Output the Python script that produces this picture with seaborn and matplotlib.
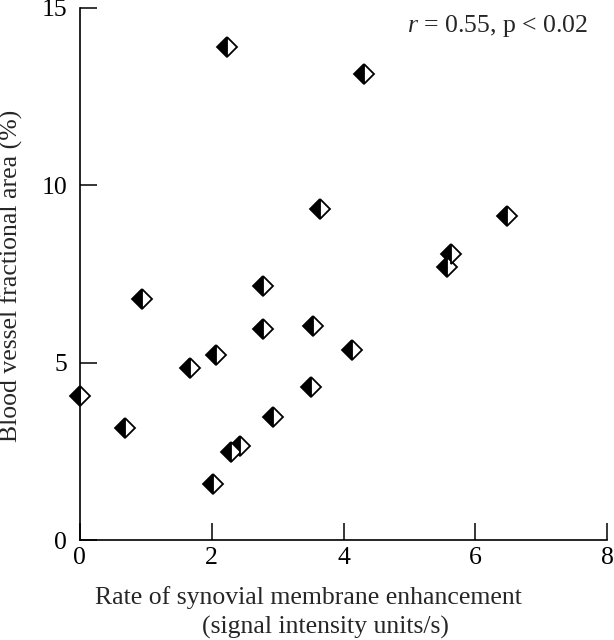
import matplotlib
matplotlib.use("Agg")
import matplotlib.pyplot as plt
import seaborn as sns
import pandas as pd

# Rate of synovial membrane enhancement vs blood vessel fractional area
rate = [0.0, 0.68, 0.94, 1.67, 2.06, 2.02, 2.23, 2.29, 2.43, 2.78,
        2.78, 2.93, 3.50, 3.54, 3.64, 4.13, 4.31, 5.57, 5.63, 6.48]
area = [4.06, 3.15, 6.79, 4.85, 5.21, 1.58, 13.89, 2.48, 2.65, 7.15,
        5.94, 3.46, 4.31, 6.03, 9.32, 5.35, 13.13, 7.69, 8.06, 9.13]

x_ticks = [0, 2, 4, 6, 8]
y_ticks = [0, 5, 10, 15]

df = pd.DataFrame({"rate": rate, "area": area})

sns.set_style("ticks")
plt.rcParams["font.family"] = ["Liberation Serif", "DejaVu Serif"]
plt.rcParams["mathtext.fontset"] = "custom"
plt.rcParams["mathtext.it"] = "Liberation Serif:italic"
plt.rcParams["mathtext.rm"] = "Liberation Serif"

fs = 18.5

fig = plt.figure(figsize=(6.14, 6.4), dpi=100)
ax = fig.add_axes([0.130, 0.156, 0.859, 0.832])

sns.lineplot(data=df, x="rate", y="area", ax=ax, estimator=None, sort=False,
             linestyle="", marker="D", markersize=10, fillstyle="left",
             markerfacecolor="black", markerfacecoloralt="white",
             mec="black", mew=1.3, color="black", clip_on=False)

ax.set_xlim(0, 8)
ax.set_ylim(0, 15)
ax.set_xticks(x_ticks)
ax.set_yticks(y_ticks)
ax.tick_params(direction="in", length=12.5, width=1.1, labelsize=fs,
               colors="black")
ax.tick_params(axis="y", pad=9)
ax.tick_params(axis="x", pad=5)
sns.despine(ax=ax)
for s in ["left", "bottom"]:
    ax.spines[s].set_linewidth(1.2)
    ax.spines[s].set_color("black")

# two-line x label, second line sits a little to the right
ax.set_xlabel("Rate of synovial membrane enhancement", fontsize=fs)
ax.xaxis.set_label_coords(0.433, -0.107)
ax.xaxis.label.set_va("center")
ax.text(0.465, -0.163, "(signal intensity units/s)", transform=ax.transAxes,
        ha="center", va="center", fontsize=fs)

ax.set_ylabel("Blood vessel fractional area (%)", fontsize=fs)
ax.yaxis.set_label_coords(-0.13, 0.496)
ax.yaxis.label.set_va("center")

ax.text(0.964, 0.99, r"$r$ = 0.55, p < 0.02", transform=ax.transAxes,
        ha="right", va="top", fontsize=fs)

fig.savefig("out.png", dpi=100)
